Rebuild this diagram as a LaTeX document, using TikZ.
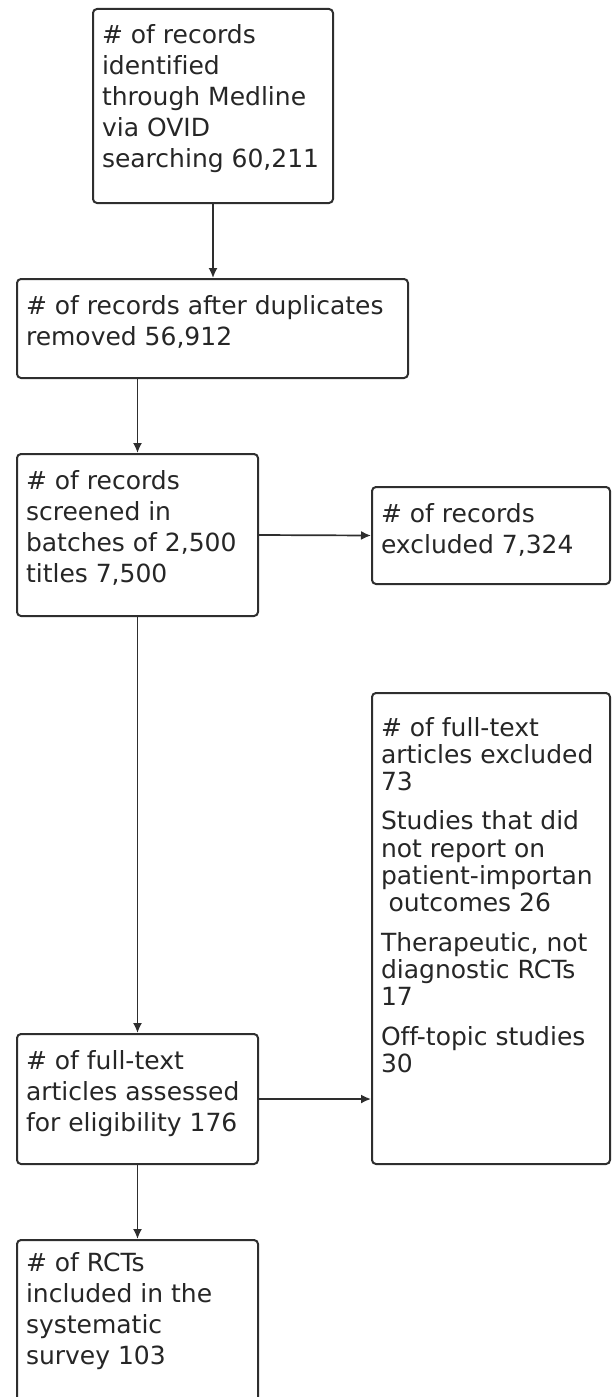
\documentclass[tikz,border=0pt]{standalone}
\usepackage{fontspec}
\setmainfont{DejaVu Sans}[Ligatures=NoCommon]
\usepackage{tikz}
\usetikzlibrary{arrows.meta}
\definecolor{boxline}{HTML}{2E2E2E}

% text block of fixed height, first baseline at #1 from the top
\newcommand{\flowtext}[4][35pt]{%
  \begin{minipage}[t][#3][t]{#2}\raggedright\rule{0pt}{#1}#4\end{minipage}}

\begin{document}
\begin{tikzpicture}[x=1pt, y=-1pt,
      flowbox/.style={draw=boxline, line width=2pt, rounded corners=4pt,
                      inner xsep=9pt, inner ysep=0pt, anchor=north west,
                      font=\fontsize{25}{31}\selectfont, text=black!85},
      arr/.style={-{Latex[length=10pt,width=9pt]}, line width=1.7pt, boxline}
    ]
      \useasboundingbox (0,0) rectangle (612,1397);
      \node[flowbox] (search) at (92,8)
        {\flowtext{222pt}{194pt}{\# of records\\identified\\through Medline\\via OVID\\searching 60,211}};
      \node[flowbox] (dedup) at (16,278)
        {\flowtext{373pt}{99pt}{\# of records after duplicates\\removed 56,912}};
      \node[flowbox] (screen) at (16,453)
        {\flowtext{223pt}{162pt}{\# of records\\screened in\\batches of 2,500\\titles 7,500}};
      \node[flowbox] (excl) at (371,486)
        {\flowtext{220pt}{97pt}{\# of records\\excluded 7,324}};
      \node[flowbox, font=\fontsize{25}{27.3}\selectfont] (ftexcl) at (371,692)
        {\flowtext[43pt]{220pt}{471pt}{\# of full-text\\articles excluded\\73\\[12pt]
          Studies that did\\not report on\\patient-importan\\\hspace*{0.3em}outcomes 26\\[12pt]
          Therapeutic, not\\diagnostic RCTs\\17\\[12pt]
          Off-topic studies\\30}};
      \node[flowbox] (assess) at (16,1033)
        {\flowtext{223pt}{130pt}{\# of full-text\\articles assessed\\for eligibility 176}};
      \node[flowbox] (incl) at (16,1239)
        {\flowtext[31pt]{223pt}{180pt}{\# of RCTs\\included in the\\systematic\\survey 103}};
      \draw[arr] (search.south) -- (search.south |- dedup.north);
      \draw[arr] (screen.north |- dedup.south) -- (screen.north);
      \draw[arr] (screen.east) -- (excl.west);
      \draw[arr] (screen.south) -- (assess.north);
      \draw[arr] (assess.east) -- (assess.east -| ftexcl.west);
      \draw[arr] (assess.south) -- (incl.north);
    \end{tikzpicture}
\end{document}
